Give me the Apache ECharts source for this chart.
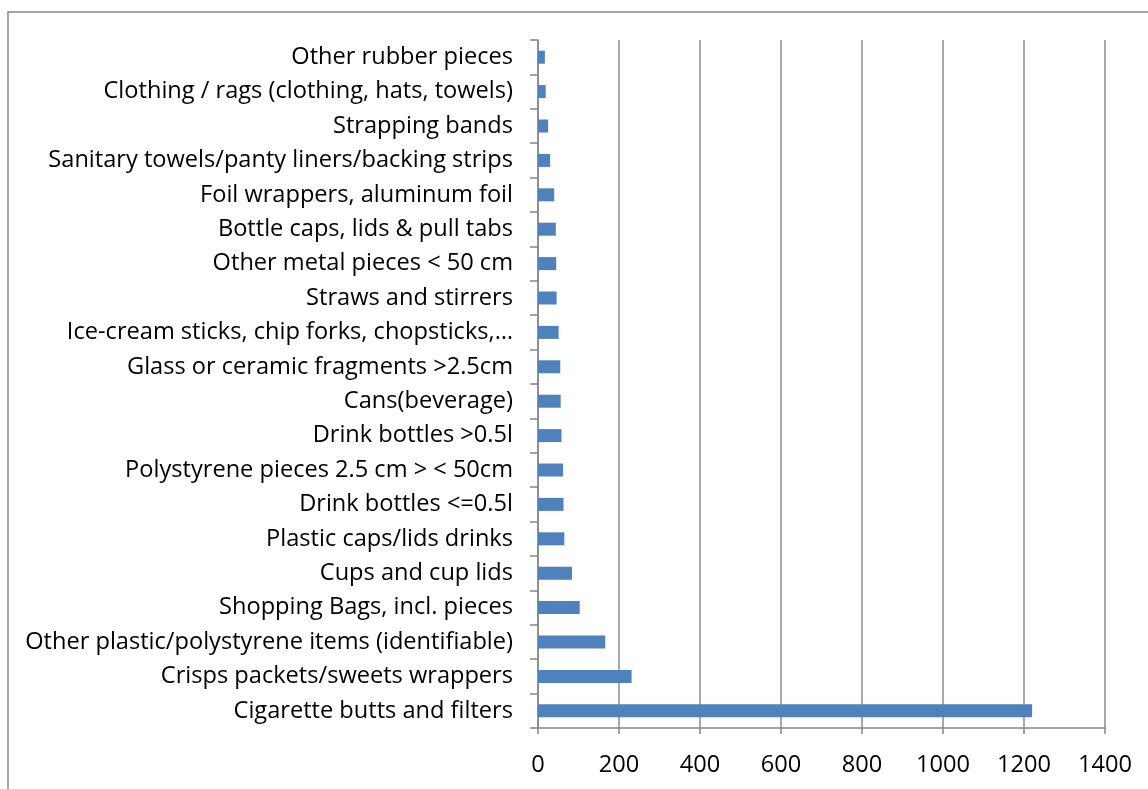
<!DOCTYPE html>
<html>
<head>
<meta charset="utf-8">
<script src="https://cdn.jsdelivr.net/npm/echarts@6/dist/echarts.min.js"></script>
<style>
html,body{margin:0;padding:0;background:#fff;}
#chart{width:1148px;height:789px;}
</style>
</head>
<body>
<div id="chart"></div>
<script>
// Categories listed bottom to top
const categories = [
  "Cigarette butts and filters",
  "Crisps packets/sweets wrappers",
  "Other plastic/polystyrene items (identifiable)",
  "Shopping Bags, incl. pieces",
  "Cups and cup lids",
  "Plastic caps/lids drinks",
  "Drink bottles <=0.5l",
  "Polystyrene pieces 2.5 cm > < 50cm",
  "Drink bottles >0.5l",
  "Cans(beverage)",
  "Glass or ceramic fragments >2.5cm",
  "Ice-cream sticks, chip forks, chopsticks,…",
  "Straws and stirrers",
  "Other metal pieces < 50 cm",
  "Bottle caps, lids & pull tabs",
  "Foil wrappers, aluminum foil",
  "Sanitary towels/panty liners/backing strips",
  "Strapping bands",
  "Clothing / rags (clothing, hats, towels)",
  "Other rubber pieces"
];
const values = [1220, 231, 166, 103, 84, 65, 63, 62, 58, 56, 55, 51, 46, 45, 44, 40, 30, 25, 19, 17];
const xTicks = { min: 0, max: 1400, interval: 200 };

const chart = echarts.init(document.getElementById('chart'));
const FONT = '"Open Sans", sans-serif';
chart.setOption({
  animation: false,
  backgroundColor: '#fff',
  graphic: [{
    type: 'rect',
    shape: { x: 8, y: 12, width: 1160, height: 800 },
    style: { fill: 'none', stroke: '#878787', lineWidth: 1.5 },
    silent: true
  }],
  grid: { left: 538, right: 43, top: 40, bottom: 61, containLabel: false },
  xAxis: {
    type: 'value',
    min: xTicks.min, max: xTicks.max, interval: xTicks.interval,
    axisLine: { show: true, lineStyle: { color: '#878787', width: 1.5 } },
    axisTick: { show: true, length: 6, lineStyle: { color: '#878787', width: 1.5 } },
    splitLine: { show: true, lineStyle: { color: '#8c8c8c', width: 1.5 } },
    axisLabel: { color: '#000', fontFamily: FONT, fontSize: 23.6, margin: 25, formatter: function (v) { return String(v); } }
  },
  yAxis: {
    type: 'category',
    data: categories,
    axisLine: { show: true, lineStyle: { color: '#878787', width: 1.5 } },
    axisTick: { show: true, length: 8, lineStyle: { color: '#878787', width: 1.5 } },
    axisLabel: { color: '#000', fontFamily: FONT, fontSize: 23.6, margin: 25, interval: 0 }
  },
  series: [{
    type: 'bar',
    data: values,
    barWidth: 13,
    itemStyle: { color: '#4f81bd' }
  }]
});
</script>
</body>
</html>
